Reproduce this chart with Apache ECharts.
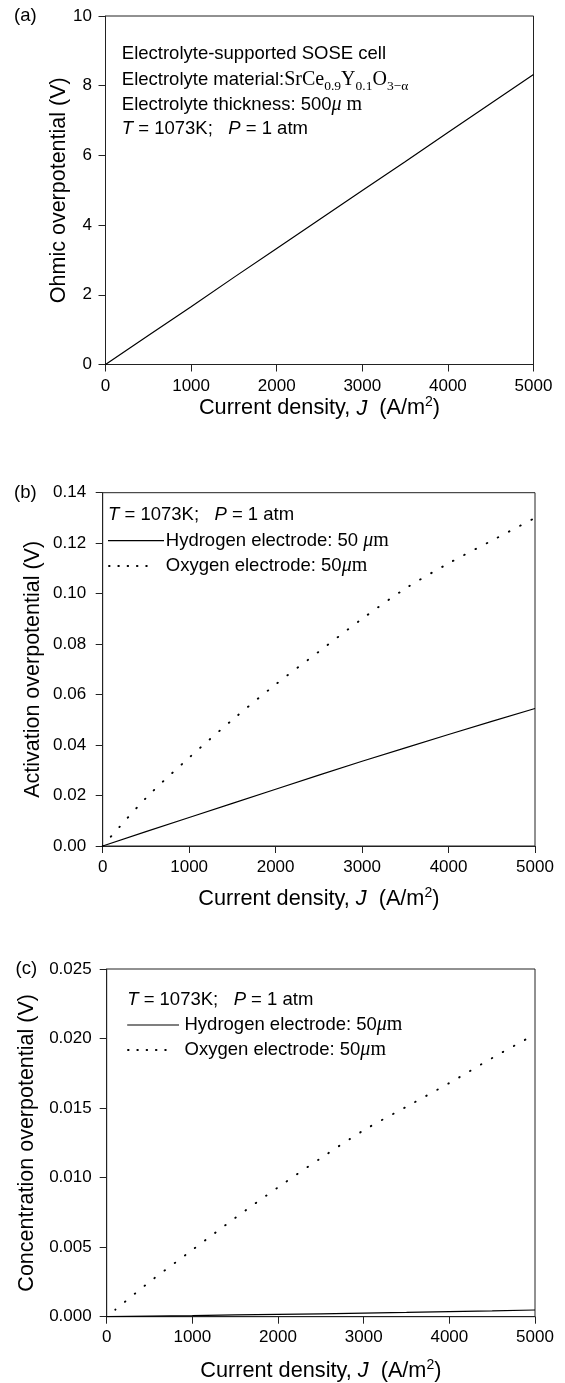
<!DOCTYPE html>
<html>
<head>
<meta charset="utf-8">
<script src="https://cdn.jsdelivr.net/npm/echarts@6/dist/echarts.min.js"></script>
<style>
  html, body { margin: 0; padding: 0; background: #fff; }
  #chart { width: 565px; height: 1383px; }
</style>
</head>
<body>
<div id="chart"></div>
<script>
// ---------------- data ----------------
const xTicks = [0, 1000, 2000, 3000, 4000, 5000];
const currentDensity = [0, 500, 1000, 1500, 2000, 2500, 3000, 3500, 4000, 4500, 5000];

// (a) ohmic overpotential (V)
const ohmic = [0, 0.83, 1.66, 2.50, 3.33, 4.16, 4.99, 5.82, 6.66, 7.49, 8.32];

// (b) activation overpotential (V)
const actHydrogen = [0, 0.0057, 0.0113, 0.0169, 0.0225, 0.0281, 0.0336, 0.0389, 0.0442, 0.0494, 0.0545];
const actOxygen   = [0, 0.019, 0.035, 0.050, 0.064, 0.077, 0.090, 0.102, 0.112, 0.121, 0.130];

// (c) concentration overpotential (V)
const concHydrogen = [0, 0.00004, 0.00008, 0.00013, 0.00017, 0.00021, 0.00026, 0.00031, 0.00037, 0.00042, 0.00048];
const concOxygenJ  = [100, 500, 1000, 1500, 2000, 2500, 3000, 3500, 4000, 4500, 5000];
const concOxygen   = [0.0005, 0.0025, 0.0048, 0.0071, 0.0093, 0.0114, 0.0134, 0.0151, 0.0168, 0.0186, 0.0203];

const yTicksA = [0, 2, 4, 6, 8, 10];
const yTicksB = [0, 0.02, 0.04, 0.06, 0.08, 0.10, 0.12, 0.14];
const yTicksC = [0, 0.005, 0.010, 0.015, 0.020, 0.025];

// --------------- helpers ---------------
const SANS = '"Liberation Sans", Arial, sans-serif';
const SERIF = '"Liberation Serif", "Times New Roman", serif';
const INK = '#000';
const zip = (xs, ys) => xs.map((x, i) => [x, ys[i]]);

const grids = [
  { left: 105.5, top: 16, width: 428, height: 348.5 },
  { left: 102.7, top: 492.7, width: 432.3, height: 353.3 },
  { left: 106.7, top: 969, width: 428.3, height: 347.7 }
].map(g => Object.assign({ show: true, borderColor: '#222', borderWidth: 1, backgroundColor: 'transparent' }, g));

const xNameText = '{n|Current density, }{i|J}{n|  (A/m}{sup|2}{n|)}';
const xNameRich = {
  n: { fontFamily: SANS, fontSize: 21.7, color: INK, lineHeight: 26 },
  i: { fontFamily: SANS, fontSize: 21.7, fontStyle: 'italic', color: INK, lineHeight: 26 },
  sup: { fontFamily: SANS, fontSize: 14, color: INK, lineHeight: 14, verticalAlign: 'top' }
};

function xAxis(idx, nameGap, labelMargin) {
  return {
    type: 'value', gridIndex: idx, min: xTicks[0], max: xTicks[xTicks.length - 1],
    interval: xTicks[1] - xTicks[0],
    name: xNameText, nameLocation: 'middle', nameGap: nameGap, nameMoveOverlap: false,
    nameTextStyle: { rich: xNameRich },
    axisLine: { show: true, lineStyle: { color: '#222', width: 1 } },
    axisTick: { show: true, inside: false, length: 7, lineStyle: { color: '#222', width: 1 } },
    axisLabel: { color: INK, fontFamily: SANS, fontSize: 17, margin: labelMargin,
      formatter: v => String(Math.round(v)) },
    splitLine: { show: false }
  };
}
function yAxis(idx, ticks, name, nameGap, labelMargin, digits) {
  return {
    type: 'value', gridIndex: idx, min: ticks[0], max: ticks[ticks.length - 1],
    interval: ticks[1] - ticks[0],
    name: name, nameLocation: 'middle', nameGap: nameGap, nameMoveOverlap: false,
    nameTextStyle: { fontFamily: SANS, fontSize: 21.5, color: INK },
    axisLine: { show: true, lineStyle: { color: '#222', width: 1 } },
    axisTick: { show: true, inside: false, length: 7, lineStyle: { color: '#222', width: 1 } },
    axisLabel: { color: INK, fontFamily: SANS, fontSize: 17, margin: labelMargin,
      formatter: v => Number(v).toFixed(digits) },
    splitLine: { show: false }
  };
}
const solid = { color: INK, width: 1.2, type: 'solid' };
const dotted = { color: INK, width: 1.9, type: [0.6, 12], cap: 'round' };

function line(idx, data, style, smooth) {
  return {
    type: 'line', xAxisIndex: idx, yAxisIndex: idx, data: data,
    symbol: 'none', smooth: smooth,
    lineStyle: style, silent: true
  };
}

// annotation rich text styles (zrender style keys)
const annRich = {
  s: { fontFamily: SANS, fontSize: 18.5, fill: INK, lineHeight: 26 },
  i: { fontFamily: SANS, fontSize: 18.5, fontStyle: 'italic', fill: INK, lineHeight: 26 },
  r: { fontFamily: SERIF, fontSize: 20, fill: INK, lineHeight: 26 },
  mu: { fontFamily: SERIF, fontSize: 20, fontStyle: 'italic', fill: INK, lineHeight: 26 },
  sub: { fontFamily: SERIF, fontSize: 13.5, fill: INK, lineHeight: 13.5, verticalAlign: 'bottom' }
};
function txt(x, y, text, extra) {
  return Object.assign({
    type: 'text', x: x, y: y, silent: true,
    style: { text: text, rich: annRich, fill: INK, font: '18.5px ' + SANS, verticalAlign: 'middle', align: 'left' }
  }, extra || {});
}
function seg(x1, x2, y, dash) {
  return {
    type: 'line', silent: true,
    shape: { x1: x1, y1: y, x2: x2, y2: y },
    style: dash ? { stroke: INK, lineWidth: 1.9, lineDash: dash, lineCap: 'round' }
                : { stroke: INK, lineWidth: 1.2 }
  };
}
const condText = '{i|T}{s| = 1073K;   }{i|P}{s| = 1 atm}';

const graphics = [
  txt(14, 16, '{s|(a)}'),
  txt(14, 492.5, '{s|(b)}'),
  txt(15.5, 969, '{s|(c)}'),
  // (a) annotations
  txt(121.8, 54.3, '{s|Electrolyte-supported SOSE cell}'),
  txt(121.8, 80, '{s|Electrolyte material:}{r|SrCe}{sub|0.9}{r|Y}{sub|0.1}{r|O}{sub|3−α}'),
  txt(121.8, 105, '{s|Electrolyte thickness: 500}{mu|μ}{r| m}'),
  txt(121.8, 129.3, condText),
  // (b) legend
  txt(108, 515, condText),
  seg(108, 164, 540.7, null),
  txt(165.8, 540.7, '{s|Hydrogen electrode: 50 }{mu|μ}{r|m}'),
  seg(109, 155, 566, [0.6, 8.7]),
  txt(165.8, 566, '{s|Oxygen electrode: 50}{mu|μ}{r|m}'),
  // (c) legend
  txt(127.2, 1000, condText),
  seg(127.2, 179, 1025, null),
  txt(184.5, 1025, '{s|Hydrogen electrode: 50}{mu|μ}{r|m}'),
  seg(128, 174, 1050, [0.6, 8.7]),
  txt(184.5, 1050, '{s|Oxygen electrode: 50}{mu|μ}{r|m}')
];

const option = {
  animation: false,
  backgroundColor: '#fff',
  grid: grids,
  xAxis: [xAxis(0, 31, 13), xAxis(1, 40, 13), xAxis(2, 41, 12)],
  yAxis: [
    yAxis(0, yTicksA, 'Ohmic overpotential (V)', 35, 13.5, 0),
    yAxis(1, yTicksB, 'Activation overpotential (V)', 59, 16.5, 2),
    yAxis(2, yTicksC, 'Concentration overpotential (V)', 69, 15, 3)
  ],
  series: [
    line(0, zip(currentDensity, ohmic), solid, false),
    line(1, zip(currentDensity, actHydrogen), solid, false),
    line(1, zip(currentDensity, actOxygen), dotted, 0.3),
    line(2, zip(currentDensity, concHydrogen), solid, false),
    line(2, zip(concOxygenJ, concOxygen), dotted, 0.3)
  ],
  graphic: graphics
};

const chart = echarts.init(document.getElementById('chart'), null, { renderer: 'canvas' });
chart.setOption(option);
</script>
</body>
</html>
